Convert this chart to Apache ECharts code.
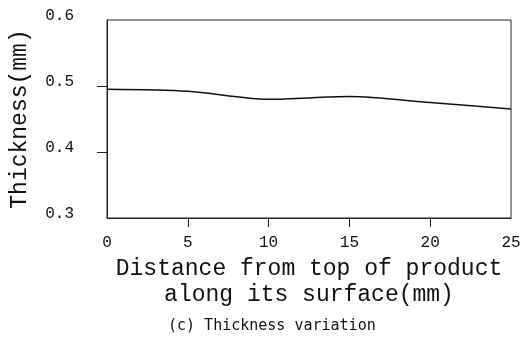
<!DOCTYPE html>
<html>
<head>
<meta charset="utf-8">
<script src="https://cdn.jsdelivr.net/npm/echarts@6/dist/echarts.min.js"></script>
<style>
  html, body { margin: 0; padding: 0; background: #fff; }
  #chart { width: 524px; height: 344px; }
</style>
</head>
<body>
<div id="chart"></div>
<script>
// distance along surface (mm) and thickness (mm)
const distance = [0, 5, 10, 15, 20, 25]
const thickness = [0.495, 0.492, 0.480, 0.484, 0.475, 0.465]
const xTicks = [5, 10, 15, 20]
const yTicks = [0.4, 0.5]

const chart = echarts.init(document.getElementById('chart'))
const mono = 'Liberation Mono'

chart.setOption({
  animation: false,
  title: {
    text: '(c) Thickness variation',
    left: 163,
    top: 314,
    textStyle: { fontFamily: 'DejaVu Sans Mono', fontSize: 15, fontWeight: 'normal', color: '#111' },
  },
  grid: {
    left: 106, right: 13, top: 20, bottom: 126,
    show: true, borderColor: '#222', borderWidth: 1,
  },
  xAxis: {
    type: 'value',
    min: 0,
    max: 25,
    interval: 5,
    name: 'Distance from top of product\nalong its surface(mm)',
    nameLocation: 'middle',
    nameGap: 36,
    nameTextStyle: { fontFamily: mono, fontSize: 23, lineHeight: 26, color: '#111' },
    axisLine: { lineStyle: { color: '#222', width: 1 } },
    axisTick: { inside: false, length: 9, customValues: xTicks, lineStyle: { color: '#222' } },
    axisLabel: { margin: 17, fontFamily: mono, fontSize: 16, color: '#111' },
    splitLine: { show: false },
  },
  yAxis: {
    type: 'value',
    min: 0.3,
    max: 0.6,
    interval: 0.1,
    name: 'Thickness(mm)',
    nameLocation: 'middle',
    nameGap: 76,
    nameTextStyle: { fontFamily: mono, fontSize: 23, color: '#111' },
    axisLine: { show: true, lineStyle: { color: '#222', width: 1 } },
    axisTick: { show: true, inside: false, length: 10, customValues: yTicks, lineStyle: { color: '#222' } },
    axisLabel: {
      margin: 33, fontFamily: mono, fontSize: 16, color: '#111',
      verticalAlign: 'bottom', lineHeight: 9,
      formatter: (v) => v.toFixed(1),
    },
    splitLine: { show: false },
  },
  series: [{
    type: 'line',
    data: distance.map((d, i) => [d, thickness[i]]),
    smooth: 0.3,
    symbol: 'none',
    lineStyle: { color: '#111', width: 1.5 },
  }],
})
</script>
</body>
</html>
